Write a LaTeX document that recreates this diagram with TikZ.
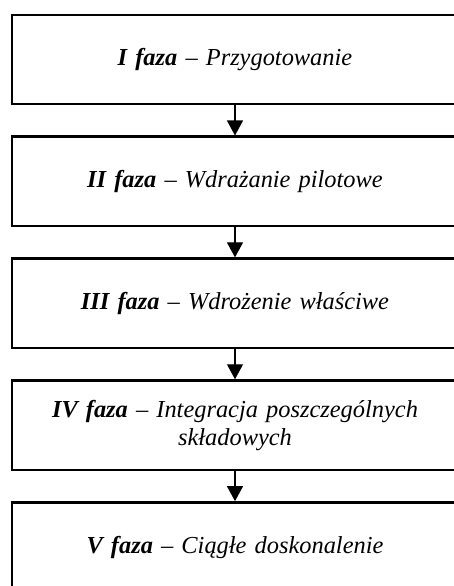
\documentclass[tikz,border=0pt]{standalone}
\usepackage{fontspec}
\setmainfont{Liberation Serif}
\usetikzlibrary{arrows.meta}
\usetikzlibrary{positioning}

\begin{document}
\begin{tikzpicture}[x=1pt, y=1pt,
	faza/.style={rectangle, draw=black, line width=1.2pt, minimum width=223pt, minimum height=44.75pt,
		text width=214pt, align=center, font=\fontsize{12.2}{14}\selectfont\itshape},
	strzalka/.style={-{Triangle[length=7.5pt, width=8pt]}, line width=0.6pt},
	node distance=15pt]
	\useasboundingbox (0,0) rectangle (227,-293);
	\node[faza] (faza1) at (117.5,-29.75) {\textbf{I faza} -- Przygotowanie};
	\node[faza, below=of faza1] (faza2) {\textbf{II faza} -- Wdrażanie pilotowe};
	\node[faza, below=of faza2] (faza3) {\textbf{III faza} -- Wdrożenie właściwe};
	\node[faza, below=of faza3] (faza4) {\textbf{IV faza} -- Integracja poszczególnych\\ składowych};
	\node[faza, below=of faza4] (faza5) {\textbf{V faza} -- Ciągłe doskonalenie};
	\draw[strzalka] (faza1) -- (faza2);
	\draw[strzalka] (faza2) -- (faza3);
	\draw[strzalka] (faza3) -- (faza4);
	\draw[strzalka] (faza4) -- (faza5);
\end{tikzpicture}
\end{document}
